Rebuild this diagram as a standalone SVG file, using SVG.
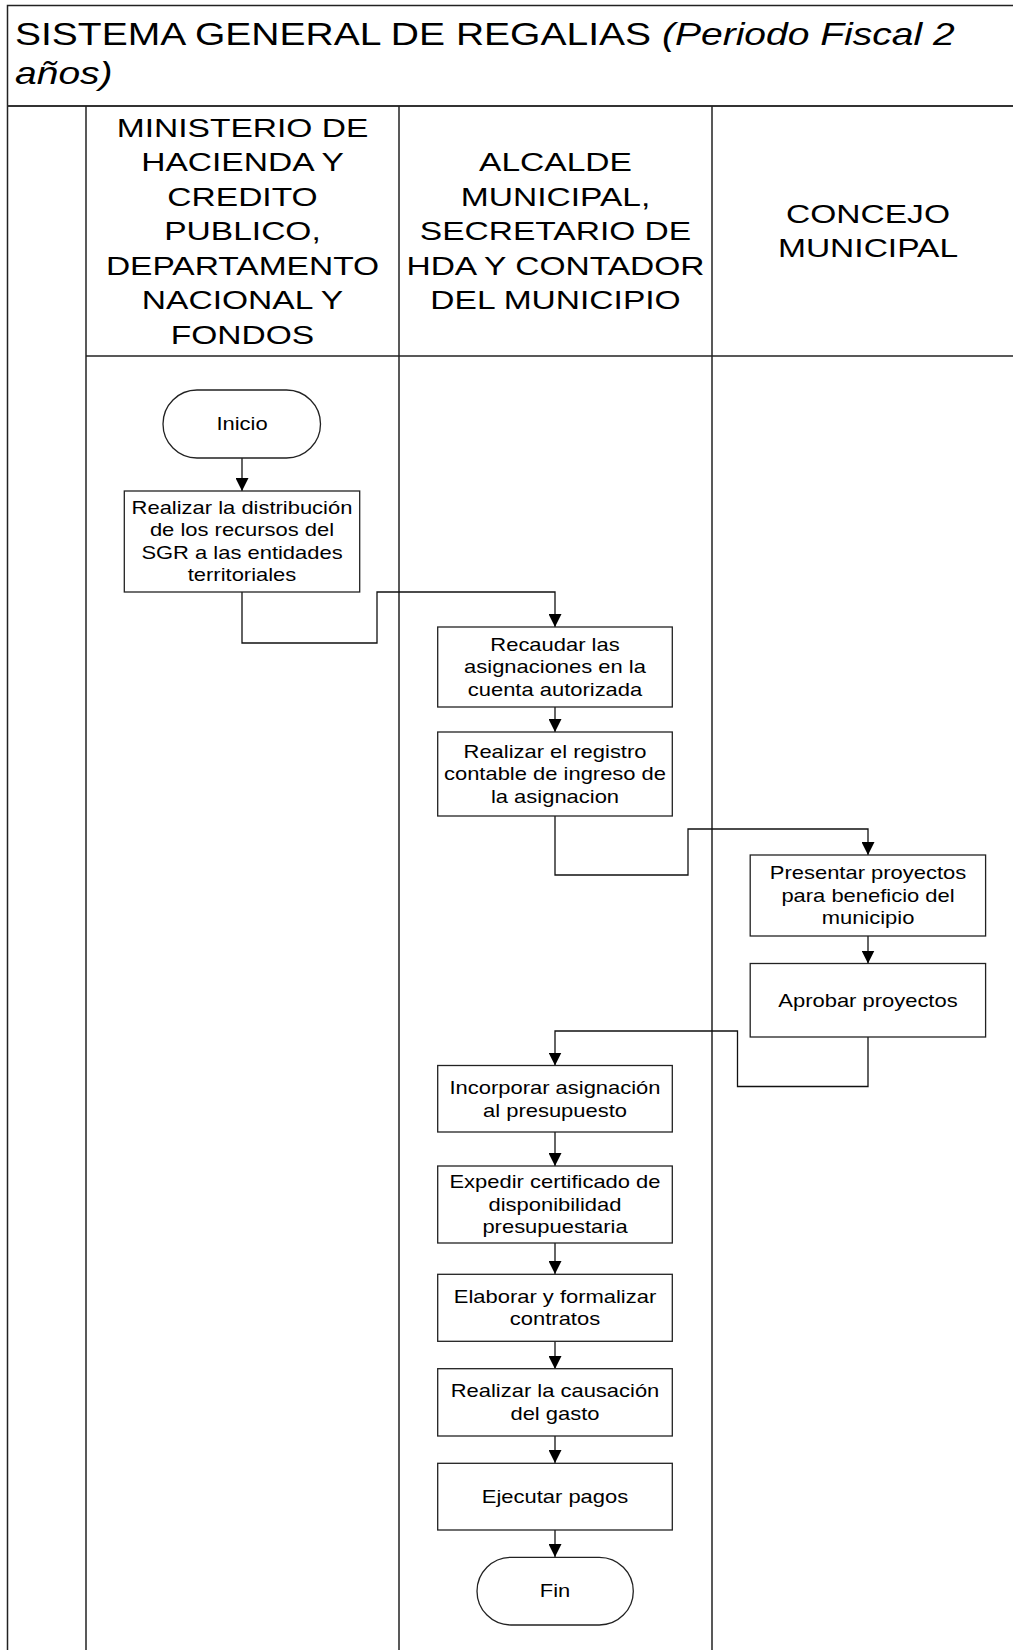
<svg xmlns="http://www.w3.org/2000/svg" width="1013" height="1650" viewBox="0 0 1013 1650">
  <style>
    .frame { fill: none; stroke: #222; stroke-width: 1.5; }
    .box { fill: #fff; stroke: #222; stroke-width: 1.3; }
    .link { fill: none; stroke: #111; stroke-width: 1.3; }
    text { font-family: "Liberation Sans", Arial, sans-serif; fill: #000; }
    .title { font-size: 30.5px; }
    .lane { font-size: 26px; text-anchor: middle; }
    .lbl { font-size: 18px; text-anchor: middle; }
  </style>
  <defs>
    <marker id="arrow" markerUnits="userSpaceOnUse" markerWidth="13" markerHeight="13" viewBox="0 0 12 12" refX="12" refY="6" orient="auto">
      <path d="M0,0 L12,6 L0,12 Z" fill="#000"/>
    </marker>
  </defs>

  <rect width="1013" height="1650" fill="#fff"/>

  <!-- pool frame and swimlanes -->
  <g id="pool">
    <path class="frame" d="M1013,5.5 H7.5 V1650"/>
    <line x1="7.5" y1="106" x2="1013" y2="106" stroke="#333" stroke-width="2.2"/>
    <line class="frame" x1="86" y1="356" x2="1013" y2="356"/>
    <line class="frame" x1="86" y1="106" x2="86" y2="1650"/>
    <line class="frame" x1="399" y1="106" x2="399" y2="1650"/>
    <line class="frame" x1="712" y1="106" x2="712" y2="1650"/>
    <text class="title" transform="scale(1.28 1)"><tspan x="11.7" y="45">SISTEMA GENERAL DE REGALIAS <tspan font-style="italic">(Periodo Fiscal 2</tspan></tspan><tspan x="11.7" y="84" font-style="italic">años)</tspan></text>
  </g>

  <!-- lane headings (tspans kept adjacent so no stray spaces shift the centring) -->
  <g id="lane-ministerio">
    <text class="lane" transform="translate(242.5 0) scale(1.29 1)"><tspan x="0" y="137">MINISTERIO DE</tspan><tspan x="0" y="171.5">HACIENDA Y</tspan><tspan x="0" y="206">CREDITO</tspan><tspan x="0" y="240.5">PUBLICO,</tspan><tspan x="0" y="275">DEPARTAMENTO</tspan><tspan x="0" y="309.5">NACIONAL Y</tspan><tspan x="0" y="344">FONDOS</tspan></text>
  </g>
  <g id="lane-alcalde">
    <text class="lane" transform="translate(555.5 0) scale(1.29 1)"><tspan x="0" y="171.5">ALCALDE</tspan><tspan x="0" y="206">MUNICIPAL,</tspan><tspan x="0" y="240.5">SECRETARIO DE</tspan><tspan x="0" y="275">HDA Y CONTADOR</tspan><tspan x="0" y="309.5">DEL MUNICIPIO</tspan></text>
  </g>
  <g id="lane-concejo">
    <text class="lane" transform="translate(868 0) scale(1.29 1)"><tspan x="0" y="223">CONCEJO</tspan><tspan x="0" y="257">MUNICIPAL</tspan></text>
  </g>

  <!-- connectors -->
  <g id="connectors">
    <path class="link" marker-end="url(#arrow)" d="M242,458 V491"/>
    <path class="link" marker-end="url(#arrow)" d="M242,592 V643 H377 V592 H555 V627"/>
    <path class="link" marker-end="url(#arrow)" d="M555,707 V732"/>
    <path class="link" marker-end="url(#arrow)" d="M555,816 V875 H688 V829 H868 V855"/>
    <path class="link" marker-end="url(#arrow)" d="M868,936 V963.5"/>
    <path class="link" marker-end="url(#arrow)" d="M868,1037 V1086.5 H737.5 V1031 H555 V1065.5"/>
    <path class="link" marker-end="url(#arrow)" d="M555,1132 V1166"/>
    <path class="link" marker-end="url(#arrow)" d="M555,1243 V1274"/>
    <path class="link" marker-end="url(#arrow)" d="M555,1341 V1369"/>
    <path class="link" marker-end="url(#arrow)" d="M555,1436 V1463"/>
    <path class="link" marker-end="url(#arrow)" d="M555,1530 V1557"/>
  </g>

  <!-- nodes -->
  <g id="inicio">
    <rect class="box" x="163" y="390" width="157.5" height="68" rx="34" ry="34"/>
    <text class="lbl" transform="translate(242 0) scale(1.22 1)"><tspan x="0" y="430.5">Inicio</tspan></text>
  </g>
  <g id="distribucion">
    <rect class="box" x="124.3" y="491" width="235.4" height="101"/>
    <text class="lbl" transform="translate(242 0) scale(1.22 1)"><tspan x="0" y="514">Realizar la distribución</tspan><tspan x="0" y="536.5">de los recursos del</tspan><tspan x="0" y="559">SGR a las entidades</tspan><tspan x="0" y="581.5">territoriales</tspan></text>
  </g>
  <g id="recaudar">
    <rect class="box" x="437.7" y="627" width="234.6" height="80"/>
    <text class="lbl" transform="translate(555 0) scale(1.22 1)"><tspan x="0" y="651">Recaudar las</tspan><tspan x="0" y="673.5">asignaciones en la</tspan><tspan x="0" y="696">cuenta autorizada</tspan></text>
  </g>
  <g id="registro">
    <rect class="box" x="437.7" y="732" width="234.6" height="84"/>
    <text class="lbl" transform="translate(555 0) scale(1.22 1)"><tspan x="0" y="758">Realizar el registro</tspan><tspan x="0" y="780.5">contable de ingreso de</tspan><tspan x="0" y="803">la asignacion</tspan></text>
  </g>
  <g id="presentar">
    <rect class="box" x="750.2" y="855" width="235.4" height="81"/>
    <text class="lbl" transform="translate(868 0) scale(1.22 1)"><tspan x="0" y="879.5">Presentar proyectos</tspan><tspan x="0" y="902">para beneficio del</tspan><tspan x="0" y="924.5">municipio</tspan></text>
  </g>
  <g id="aprobar">
    <rect class="box" x="750.2" y="963.5" width="235.4" height="73.5"/>
    <text class="lbl" transform="translate(868 0) scale(1.22 1)"><tspan x="0" y="1006.5">Aprobar proyectos</tspan></text>
  </g>
  <g id="incorporar">
    <rect class="box" x="437.7" y="1065.5" width="234.6" height="66.5"/>
    <text class="lbl" transform="translate(555 0) scale(1.22 1)"><tspan x="0" y="1094.5">Incorporar asignación</tspan><tspan x="0" y="1117">al presupuesto</tspan></text>
  </g>
  <g id="expedir">
    <rect class="box" x="437.7" y="1166" width="234.6" height="77"/>
    <text class="lbl" transform="translate(555 0) scale(1.22 1)"><tspan x="0" y="1188.5">Expedir certificado de</tspan><tspan x="0" y="1211">disponibilidad</tspan><tspan x="0" y="1233.5">presupuestaria</tspan></text>
  </g>
  <g id="elaborar">
    <rect class="box" x="437.7" y="1274.3" width="234.6" height="67"/>
    <text class="lbl" transform="translate(555 0) scale(1.22 1)"><tspan x="0" y="1303">Elaborar y formalizar</tspan><tspan x="0" y="1325.5">contratos</tspan></text>
  </g>
  <g id="causacion">
    <rect class="box" x="437.7" y="1368.7" width="234.6" height="67.3"/>
    <text class="lbl" transform="translate(555 0) scale(1.22 1)"><tspan x="0" y="1397.5">Realizar la causación</tspan><tspan x="0" y="1420">del gasto</tspan></text>
  </g>
  <g id="pagos">
    <rect class="box" x="437.7" y="1463.3" width="234.6" height="66.7"/>
    <text class="lbl" transform="translate(555 0) scale(1.22 1)"><tspan x="0" y="1503">Ejecutar pagos</tspan></text>
  </g>
  <g id="fin">
    <rect class="box" x="477" y="1557.3" width="156.3" height="67.7" rx="34" ry="34"/>
    <text class="lbl" transform="translate(555 0) scale(1.22 1)"><tspan x="0" y="1597.5">Fin</tspan></text>
  </g>
</svg>
